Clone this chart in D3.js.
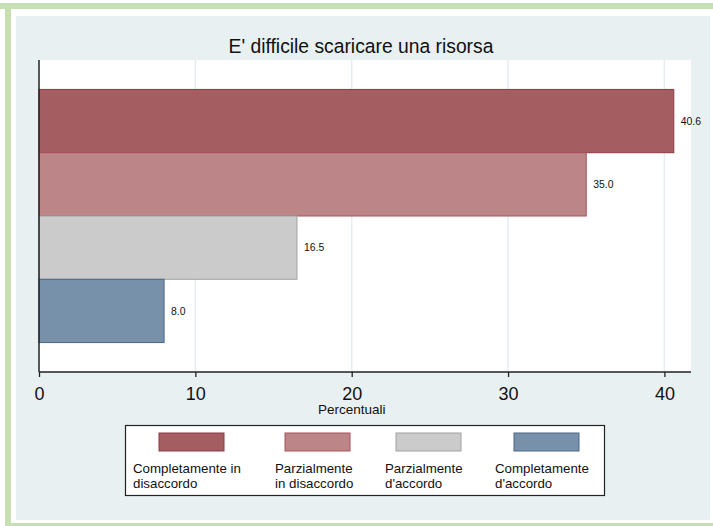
<!DOCTYPE html>
<html>
<head>
<meta charset="utf-8">
<script src="https://cdn.jsdelivr.net/npm/d3@7"></script>
<style>
  html, body { margin: 0; padding: 0; background: #ffffff; }
  svg { display: block; }
  text { font-family: "Liberation Sans", Arial, sans-serif; fill: #111; }
</style>
</head>
<body>
<svg id="chart" width="713" height="526"></svg>
<script>
// Survey answers for "E' difficile scaricare una risorsa"
const categories = [
  "Completamente in disaccordo",
  "Parzialmente in disaccordo",
  "Parzialmente d'accordo",
  "Completamente d'accordo"
];
const legendLines = [
  ["Completamente in", "disaccordo"],
  ["Parzialmente", "in disaccordo"],
  ["Parzialmente", "d'accordo"],
  ["Completamente", "d'accordo"]
];
const percentages = [40.6, 35.0, 16.5, 8.0];
const xTicks = [0, 10, 20, 30, 40];
const fills = ["#a45e62", "#bc8588", "#cbcbcb", "#7891ab"];
const strokes = ["#8c3a43", "#a8535c", "#a2a2a2", "#4d6686"];

const svg = d3.select("#chart");

// frame: green border lines and light panel
svg.append("rect").attr("x", 16).attr("y", 16).attr("width", 694).attr("height", 504)
  .attr("fill", "#e8f0f2");
svg.append("rect").attr("x", 0).attr("y", 3).attr("width", 713).attr("height", 6).attr("fill", "#c6e0b4");
svg.append("rect").attr("x", 5).attr("y", 3).attr("width", 6).attr("height", 523).attr("fill", "#c6e0b4");
svg.append("rect").attr("x", 5).attr("y", 523).attr("width", 708).attr("height", 3).attr("fill", "#c6e0b4");

// plot region
const plot = { left: 39, right: 691, top: 60, bottom: 372 };
svg.append("rect")
  .attr("x", plot.left).attr("y", plot.top)
  .attr("width", plot.right - plot.left).attr("height", plot.bottom - plot.top)
  .attr("fill", "#ffffff");

const x = d3.scaleLinear().domain([0, 41.7]).range([plot.left, plot.right]);
const y = d3.scaleBand().domain(categories).range([plot.top, plot.bottom])
  .paddingInner(0).paddingOuter(0.465);

// vertical grid lines
svg.append("g").selectAll("line").data(xTicks.filter(d => d > 0)).join("line")
  .attr("x1", d => x(d)).attr("x2", d => x(d))
  .attr("y1", plot.top).attr("y2", plot.bottom)
  .attr("stroke", "#e6edf1").attr("stroke-width", 1.5);

// bars
svg.append("g").selectAll("rect").data(percentages).join("rect")
  .attr("x", x(0))
  .attr("y", (d, i) => y(categories[i]))
  .attr("width", d => x(d) - x(0))
  .attr("height", y.bandwidth())
  .attr("fill", (d, i) => fills[i])
  .attr("stroke", (d, i) => strokes[i])
  .attr("stroke-width", 1);

// value labels
svg.append("g").selectAll("text").data(percentages).join("text")
  .attr("x", d => x(d) + 7)
  .attr("y", (d, i) => y(categories[i]) + y.bandwidth() / 2)
  .attr("dy", "0.35em")
  .attr("font-size", 10.4)
  .text(d => d.toFixed(1));

// axes
const xAxis = d3.axisBottom(x).tickValues(xTicks).tickSize(5).tickPadding(10);
const gx = svg.append("g").attr("transform", `translate(0,${plot.bottom})`).call(xAxis);
gx.select(".domain").attr("d", `M${plot.left},0H${plot.right}`).attr("stroke", "#222").attr("stroke-width", 1.3);
gx.selectAll(".tick line").attr("stroke", "#222").attr("stroke-width", 1.3);
gx.selectAll(".tick text").attr("font-size", 18).attr("fill", "#111")
  .attr("font-family", "Liberation Sans, Arial, sans-serif");

svg.append("line")
  .attr("x1", plot.left).attr("x2", plot.left)
  .attr("y1", plot.top).attr("y2", plot.bottom)
  .attr("stroke", "#222").attr("stroke-width", 1.5);

svg.append("text")
  .attr("x", x(20)).attr("y", 414)
  .attr("text-anchor", "middle").attr("font-size", 13.5)
  .text("Percentuali");

// title
svg.append("text")
  .attr("x", 361).attr("y", 53)
  .attr("text-anchor", "middle").attr("font-size", 19.3)
  .text("E' difficile scaricare una risorsa");

// legend
const legend = svg.append("g");
legend.append("rect")
  .attr("x", 125.5).attr("y", 425.5).attr("width", 479).attr("height", 70)
  .attr("fill", "#ffffff").attr("stroke", "#222").attr("stroke-width", 1.2);
const swatchX = [159, 285, 396, 514];
const textX = [133, 275, 385, 495];
categories.forEach((c, i) => {
  legend.append("rect")
    .attr("x", swatchX[i]).attr("y", 433).attr("width", 65).attr("height", 18)
    .attr("fill", fills[i]).attr("stroke", strokes[i]).attr("stroke-width", 1);
  const t = legend.append("text").attr("x", textX[i]).attr("y", 473).attr("font-size", 13.3);
  legendLines[i].forEach((line, j) => {
    t.append("tspan").attr("x", textX[i]).attr("dy", j === 0 ? 0 : 14.5).text(line);
  });
});
</script>
</body>
</html>
